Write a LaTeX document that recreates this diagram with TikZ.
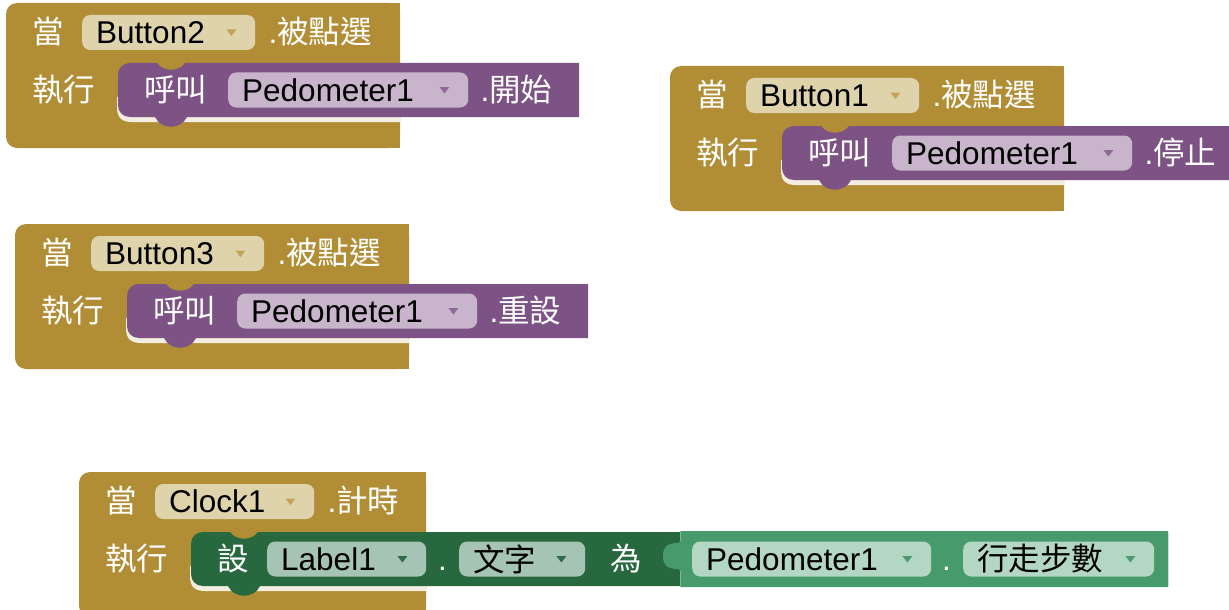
\documentclass[tikz,border=0pt]{standalone}
\usepackage{fontspec}
\setmainfont{Liberation Sans}
\newfontfamily\cjk{Noto Sans CJK TC}
\definecolor{goldc}{HTML}{B18E35}
\definecolor{gfield}{HTML}{DFD3AC}
\definecolor{gtri}{HTML}{C3A35A}
\definecolor{purp}{HTML}{7C5384}
\definecolor{pfield}{HTML}{C8B5CC}
\definecolor{ptri}{HTML}{8F6A97}
\definecolor{dgreen}{HTML}{28683F}
\definecolor{dfield}{HTML}{A6C4B3}
\definecolor{dtri}{HTML}{2D6E48}
\definecolor{lgreen}{HTML}{479A6C}
\definecolor{lfield}{HTML}{B3D7C3}
\definecolor{ltri}{HTML}{4B9B6E}
\colorlet{hilite}{goldc!15!white}
\newcommand\bfz{\fontsize{31.5}{36}\selectfont}
\tikzset{
  every node/.style={inner sep=0pt},
  lbl/.style={anchor=base west, text=white, font=\bfz},
  field/.style={anchor=west, rounded corners=8pt, minimum height=35pt,
    inner xsep=14pt, align=left, text=black, font=\bfz},
}
% dropdown triangle at the right of a field
\newcommand\tri[2]{\fill[#2] ([xshift=-29pt,yshift=3pt]#1.east) -- ++(10pt,0pt) -- ++(-5pt,-6.5pt) -- cycle;}
% gold event C shape: x0 y0 W   (inner statement L = x0+112, B = y0+114)
\newcommand\eventC[3]{%
  \fill[goldc, rounded corners=11pt] (#1,#2) rectangle ({#1+#3},{#2+145});
  \fill[goldc] ({#1+#3-14},#2) rectangle ({#1+#3},{#2+145});
  \fill[hilite] ({#1+111},{#2+94}) -- ({#1+111},{#2+104})
     .. controls ({#1+111},{#2+115}) and ({#1+116},{#2+119}) .. ({#1+126},{#2+119})
     -- ({#1+#3},{#2+119}) -- ({#1+#3},{#2+94}) -- cycle;
}
% statement block: colour L T R B
\newcommand\stmt[5]{%
  \fill[#1] (#4,#3) -- ({#2+67},#3) .. controls ({#2+61},{#3+9}) and ({#2+45},{#3+9}) .. ({#2+39},#3)
    -- ({#2+12},#3) .. controls ({#2+5},#3) and (#2,{#3+5}) .. (#2,{#3+12})
    -- (#2,{#5-12}) .. controls (#2,{#5-5}) and ({#2+5},#5) .. ({#2+12},#5)
    -- ({#2+37},#5) .. controls ({#2+43},{#5+13}) and ({#2+63},{#5+13}) .. ({#2+69},#5)
    -- (#4,#5) -- cycle;
}
% event + call block: id x0 y0 W button method
\newcommand\callblock[6]{%
  \eventC{#2}{#3}{#4}
  \stmt{purp}{#2+112}{#3+60}{#2+573}{#3+114}
  \node[lbl] (w#1) at ({#2+26},{#3+40.8}) {\cjk 當};
  \node[field, fill=gfield, text width=145pt] (f#1) at ({#2+76},{#3+29.5}) {#5};
  \tri{f#1}{gtri}
  \node[lbl] (e#1) at ([xshift=13pt,yshift=-11.3pt]f#1.east) {.\cjk 被點選};
  \node[lbl] (x#1) at ({#2+26},{#3+98.3}) {\cjk 執行};
  \node[lbl] (c#1) at ({#2+138},{#3+98.3}) {\cjk 呼叫};
  \node[field, fill=pfield, text width=212pt] (p#1) at ({#2+222},{#3+87}) {Pedometer1};
  \tri{p#1}{ptri}
  \node[lbl] (m#1) at ([xshift=12pt,yshift=-11.3pt]p#1.east) {.\cjk #6};
}
\begin{document}
\begin{tikzpicture}[x=1pt,y=-1pt]
\useasboundingbox (0,0) rectangle (1229,610);
\clip (0,0) rectangle (1229,610);
\fill[white] (0,0) rectangle (1229,610);

\callblock{a}{6}{3}{394}{Button2}{開始}
\callblock{b}{670}{66}{394}{Button1}{停止}
\callblock{c}{15}{224}{394}{Button3}{重設}

% clock block
\eventC{79}{472}{347}
\stmt{dgreen}{191}{532}{1168}{586}
\fill[lgreen] (1168,531) -- (680,531) -- (680,541) .. controls (680,546) and (663,538) .. (663,556)
  .. controls (663,574) and (680,566) .. (680,571) -- (680,587) -- (1168,587) -- cycle;
\draw[line width=1pt, color=lgreen!70!white] (680.5,531) -- (680.5,541);
\draw[line width=1pt, color=lgreen!70!white] (680.5,571) -- (680.5,587);
\node[lbl] (wd) at (105,512.8) {\cjk 當};
\node[field, fill=gfield, text width=131pt] (fd) at (155,501.5) {Clock1};
\tri{fd}{gtri}
\node[lbl] (ed) at ([xshift=13pt,yshift=-11.3pt]fd.east) {.\cjk 計時};
\node[lbl] (xd) at (105,570.3) {\cjk 執行};
\node[lbl] (sd) at (217,570.3) {\cjk 設};
\node[field, fill=dfield, text width=131pt] (ld) at (267,559) {Label1};
\tri{ld}{dtri}
\node[lbl] (dot1) at (438,570.3) {.};
\node[field, fill=dfield, text width=98pt] (td) at (459,559) {\cjk 文字};
\tri{td}{dtri}
\node[lbl] (wei) at (610,570.3) {\cjk 為};
\node[field, fill=lfield, text width=211pt] (pd) at (692,559) {Pedometer1};
\tri{pd}{ltri}
\node[lbl] (dot2) at (942,570.3) {.};
\node[field, fill=lfield, text width=163pt] (sd2) at (963,559) {\cjk 行走步數};
\tri{sd2}{ltri}
\end{tikzpicture}
\end{document}
